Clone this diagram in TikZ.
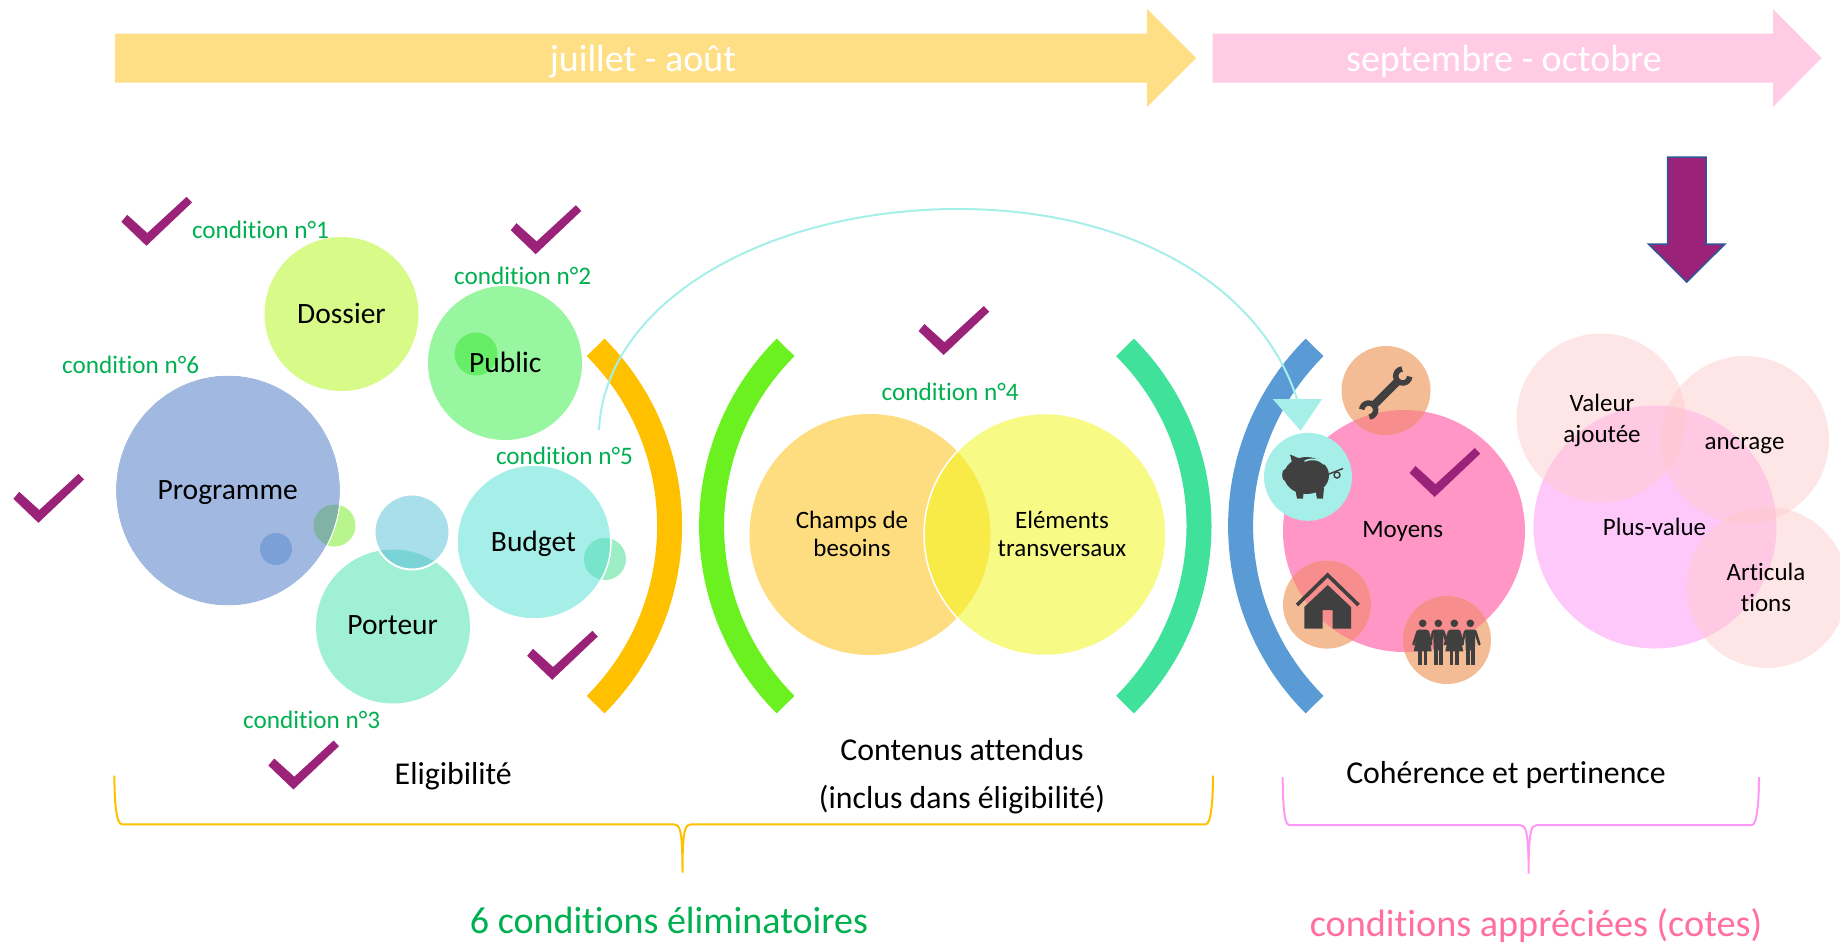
\documentclass[tikz,border=0pt]{standalone}
\usepackage{fontspec}
\usetikzlibrary{shapes.geometric}
\setmainfont{Carlito}[RawFeature={-liga;-clig;-dlig;-calt}]
\definecolor{cGreen}{HTML}{00B050}
\definecolor{cRose}{HTML}{FF6F9F}
\definecolor{cCheck}{HTML}{9B2279}
\definecolor{cCyan}{HTML}{A6EFE9}
\definecolor{cIcon}{HTML}{404040}
\definecolor{cOrangeC}{HTML}{F3BC94}
\definecolor{cOrangeO}{HTML}{F78D8D}
\definecolor{cYelArrow}{HTML}{FFDF85}
\definecolor{cPinkArrow}{HTML}{FFCBE5}
\definecolor{cDossier}{HTML}{D8FA88}
\definecolor{cPublic}{HTML}{98F5A0}
\definecolor{cProg}{HTML}{A1B8E0}
\definecolor{cBudget}{HTML}{A6EFE9}
\definecolor{cPorteur}{HTML}{A0F0D5}
\definecolor{cMoyens}{HTML}{FF96C6}
\definecolor{cPlus}{HTML}{FFC8FB}
\definecolor{cPale}{HTML}{FFCACA}
\definecolor{cGreenA}{HTML}{66EE66}
\definecolor{cLime}{HTML}{B8F58C}
\definecolor{cOverA}{HTML}{80B3A5}
\definecolor{cBluS}{HTML}{7BA0D8}
\definecolor{cBluC}{HTML}{A9DFEB}
\definecolor{cOverB}{HTML}{7AD3D6}
\definecolor{cMint}{HTML}{9CEFC4}
\definecolor{cOverC}{HTML}{78E4CB}
\definecolor{cChamps}{HTML}{FEDD80}
\definecolor{cElem}{HTML}{F7FB85}
\definecolor{cOverD}{HTML}{F9EB47}
\definecolor{cArrowEdge}{HTML}{2F5597}
\definecolor{bOrange}{HTML}{FFC000}
\definecolor{bGreen}{HTML}{6BF120}
\definecolor{bTeal}{HTML}{40E29B}
\definecolor{bBlue}{HTML}{5B9BD5}
\definecolor{bracePink}{HTML}{FF99F5}
\newcommand\fs[1]{\fontsize{#1pt}{#1pt}\selectfont}
\newcommand\ovl[7]{\begin{scope}\clip (#1,#2) circle (#3pt);\fill[#7] (#4,#5) circle (#6pt);\end{scope}}
\newcommand\chk[2]{\fill[cCheck,shift={(#1,#2)}] (-25,-24) -- (-19.2,-31) -- (0.9,-12.8) -- (40.2,-49) -- (45.6,-43.3) -- (0,0) -- cycle;}
\newcommand\iconWoman[2]{\begin{scope}[shift={(#1,#2)}]
\fill[cIcon] (0,0) circle (3.8pt);
\fill[cIcon] (-4.5,6.2) -- (4.5,6.2) -- (9,28) -- (-9,28) -- cycle;
\fill[cIcon] (-4.3,28) rectangle (-1,41.5);
\fill[cIcon] (1,28) rectangle (4.3,41.5);
\draw[cIcon,line width=2.6pt,line cap=round] (-5,8) -- (-9.2,21);
\draw[cIcon,line width=2.6pt,line cap=round] (5,8) -- (8.5,21);
\end{scope}}
\newcommand\iconMan[2]{\begin{scope}[shift={(#1,#2)}]
\fill[cIcon] (0,0) circle (3.8pt);
\fill[cIcon] (-5.2,6.2) -- (5.2,6.2) -- (4.6,27) -- (-4.6,27) -- cycle;
\fill[cIcon] (-4.6,26) rectangle (-0.8,41.5);
\fill[cIcon] (0.8,26) rectangle (4.6,41.5);
\draw[cIcon,line width=2.6pt,line cap=round] (-5,8) -- (-8.5,21);
\draw[cIcon,line width=2.6pt,line cap=round] (5,8) -- (9,21);
\end{scope}}
\tikzset{
 disc/.style={circle,inner sep=0pt,outer sep=0pt,draw=none},
 lab/.style={anchor=base,inner sep=0pt,outer sep=0pt,text=black,font=\fs{29.5}},
 lbs/.style={anchor=base,inner sep=0pt,outer sep=0pt,text=black,font=\fs{25}},
 lbm/.style={anchor=center,align=center,inner sep=0pt,outer sep=0pt,text=black},
 cond/.style={anchor=base,inner sep=0pt,outer sep=0pt,text=cGreen,font=\fs{25.2}},
 big/.style={anchor=base,inner sep=0pt,outer sep=0pt,text=black,font=\fs{31.8}},
 head/.style={anchor=base,inner sep=0pt,outer sep=0pt,text=white,font=\fs{38}},
 bracket/.style={line width=25pt,line cap=butt},
 brace/.style={line width=2pt},
}
\begin{document}
\begin{tikzpicture}[x=1pt,y=-1pt]
\useasboundingbox (0,0) rectangle (1840,943);
% timeline arrows
\fill[cYelArrow] (115,33.5) -- (1147,33.5) -- (1147,9) -- (1196,58) -- (1147,107) -- (1147,82.5) -- (115,82.5) -- cycle;
\fill[cPinkArrow] (1212.5,33.5) -- (1773,33.5) -- (1773,9) -- (1821.5,58) -- (1773,107) -- (1773,82.5) -- (1212.5,82.5) -- cycle;
\node[head] (t1) at (643,71) {juillet - août};
\node[head] (t2) at (1504,71) {septembre - octobre};
% down arrow
\draw[fill=cCheck,draw=cArrowEdge,line width=1.5pt] (1667.5,157) -- (1706,157) -- (1706,244) -- (1725,244) -- (1686.7,282) -- (1648.5,244) -- (1667.5,244) -- cycle;
% brackets
\draw[bracket,draw=bOrange] ([shift={(45:252.6pt)}]417,526) arc[start angle=45,end angle=-45,radius=252.6pt];
\draw[bracket,draw=bGreen] ([shift={(135:252.6pt)}]964.2,526) arc[start angle=135,end angle=225,radius=252.6pt];
\draw[bracket,draw=bTeal] ([shift={(45:252.6pt)}]946.4,526) arc[start angle=45,end angle=-45,radius=252.6pt];
\draw[bracket,draw=bBlue] ([shift={(135:252.6pt)}]1493.2,526) arc[start angle=135,end angle=225,radius=252.6pt];
% left cluster
\node[disc,fill=cDossier,minimum size=154pt] (dossier) at (341.5,314) {};
\node[disc,fill=cPublic,minimum size=154pt] (public) at (505,363) {};
\node[disc,fill=cGreenA,minimum size=43pt] (publicS) at (476,354) {};
\node[disc,fill=cLime,minimum size=42pt] (progS) at (334.5,525.5) {};
\node[ellipse,inner sep=0pt,outer sep=0pt,fill=cProg,minimum width=224pt,minimum height=230pt] (prog) at (228,490.5) {};
\begin{scope}\clip (334.5,525.5) circle (21pt);\fill[cOverA] (228,490.5) ellipse (112pt and 115pt);\end{scope}
\node[disc,fill=cBluS,minimum size=32pt] (progB) at (276,549) {};
\node[disc,fill=cPorteur,minimum size=154pt] (porteur) at (393,626.5) {};
\node[disc,fill=cBluC,minimum size=75pt] (porteurS) at (412,532) {};
\ovl{412}{532}{37.5}{393}{626.5}{77}{cOverB}
\draw[white,line width=2pt] (412,532) circle (37.5pt);
\node[disc,fill=cMint,minimum size=42pt] (budgetS) at (605,559) {};
\node[disc,fill=cBudget,minimum size=154pt] (budget) at (534,542) {};
\ovl{605}{559}{21}{534}{542}{77}{cOverC}
\draw[white,line width=1.5pt] (534,542) circle (77pt);
\draw[white,line width=1pt] (228,490.5) ellipse (112.5pt and 115.5pt);
% centre cluster
\node[disc,fill=cChamps,minimum size=241pt] (champs) at (870,534.5) {};
\node[disc,fill=cElem,minimum size=242pt] (elem) at (1045,534.5) {};
\ovl{870}{534.5}{120.5}{1045}{534.5}{121}{cOverD}
\draw[white,line width=1.5pt] (1045,534.5) circle (121pt);
% right cluster
\node[disc,fill=cMoyens,minimum size=242pt] (moyens) at (1404,531) {};
\node[disc,fill=cOrangeC,minimum size=89pt] (tool) at (1386,390.5) {};
\ovl{1386}{390.5}{44.5}{1404}{531}{121}{cOrangeO}
\node[disc,fill=cOrangeC,minimum size=88pt] (house) at (1327,604.6) {};
\ovl{1327}{604.6}{44}{1404}{531}{121}{cOrangeO}
\node[disc,fill=cOrangeC,minimum size=88pt] (people) at (1447,640) {};
\ovl{1447}{640}{44}{1404}{531}{121}{cOrangeO}
\node[disc,fill=cBudget,minimum size=88pt] (pig) at (1308,476.8) {};
\node[disc,fill=cPlus,minimum size=243pt] (plus) at (1655,527) {};
\node[disc,fill=cPale,fill opacity=.47,minimum size=169pt] (valeur) at (1601,418) {};
\node[disc,fill=cPale,fill opacity=.47,minimum size=168pt] (ancrage) at (1745,440) {};
\node[disc,fill=cPale,fill opacity=.47,minimum size=161pt] (artic) at (1767,587.4) {};
% wrench icon
\draw[cIcon,line width=8pt] (1372,407) -- (1399,380);
\draw[cIcon,line width=5.5pt] ([shift={(95:7pt)}]1402.7,376) arc[start angle=95,end angle=355,radius=7pt];
\draw[cIcon,line width=5.5pt] ([shift={(275:7pt)}]1368.7,410) arc[start angle=275,end angle=535,radius=7pt];
% pig icon
\begin{scope}
\fill[cIcon] (1306.5,475.5) ellipse (22.5pt and 18.5pt);
\fill[cIcon] (1286,475) ellipse (3.8pt and 6.5pt);
\fill[cIcon] (1290,454.5) -- (1303,460) -- (1294,470) -- cycle;
\fill[cIcon] (1295,488) -- (1304,488) -- (1303,498.5) -- (1297,498.5) -- cycle;
\fill[cIcon] (1315,488) -- (1324,488) -- (1323,498.5) -- (1317,498.5) -- cycle;
\draw[cIcon,line width=1.4pt] (1329,474) -- (1343,468.5);
\draw[cIcon,line width=1.4pt] (1337,475) circle (3pt);
\draw[cBudget,line width=1.6pt,line cap=round] (1305,461) .. controls (1312,458) and (1319,459) .. (1324,464);
\end{scope}
% house icon
\draw[cIcon,line width=3.6pt] (1297,605) -- (1327.6,575) -- (1358.5,605);
\fill[cIcon] (1327.7,585) -- (1351,607) -- (1351,628.5) -- (1332.7,628.5) -- (1332.7,610) -- (1322.7,610) -- (1322.7,628.5) -- (1304.3,628.5) -- (1304.3,607) -- cycle;
% people icon
\iconWoman{1422.7}{623.3}
\iconMan{1438.3}{623.3}
\iconWoman{1454.3}{623.3}
\iconMan{1470.3}{623.3}
% checks
\chk{146.4}{245.8}
\chk{535.7}{254.2}
\chk{38.4}{522.8}
\chk{552.2}{679.8}
\chk{293.4}{789.5}
\chk{943.6}{355}
\chk{1434.6}{497}
% curved connector
\coordinate (curveS) at (599,430);
\coordinate (curveT) at (958,209);
\coordinate (curveE) at (1297,399);
\draw[cCyan,line width=2pt] (curveS) .. controls (605,300) and (770,209) .. (curveT) .. controls (1130,209) and (1260,285) .. (curveE);
\fill[cCyan] (1272.7,399) -- (1322,399) -- (1300.7,430.7) -- cycle;
% braces
\coordinate (b1a) at (114.4,775.7); \coordinate (b1m) at (682.5,872.7); \coordinate (b1b) at (1213,775.7);
\draw[bOrange,brace] (b1a) .. controls (114.4,800) and (116,824.3) .. (122,824.3) -- (674,824.3) .. controls (680,824.3) and (682.5,830) .. (b1m) .. controls (682.5,830) and (685,824.3) .. (691,824.3) -- (1205.8,824.3) .. controls (1211,824.3) and (1213,800) .. (b1b);
\coordinate (b2a) at (1282.7,777); \coordinate (b2m) at (1528.6,873.7); \coordinate (b2b) at (1759,777);
\draw[bracePink,brace] (b2a) .. controls (1282.7,800) and (1284,825) .. (1289,825) -- (1520,825) .. controls (1526,825) and (1528.6,832) .. (b2m) .. controls (1528.6,832) and (1531,825) .. (1537,825) -- (1752,825) .. controls (1757,825) and (1759,800) .. (b2b);
% labels
\node[lab] (tDossier) at (341.5,323) {Dossier};
\node[lab] (tPublic) at (505.3,372.5) {Public};
\node[lab] (tProg) at (227.7,499) {Programme};
\node[lab] (tBudget) at (533.5,551) {Budget};
\node[lab] (tPorteur) at (392.7,634) {Porteur};
\node[lbm,font=\fontsize{25pt}{28pt}\selectfont] (tChamps) at (852,534) {Champs de\\besoins};
\node[lbm,font=\fontsize{25pt}{28pt}\selectfont] (tElem) at (1062,534) {Eléments\\transversaux};
\node[lbs] (tMoyens) at (1402.7,537) {Moyens};
\node[lbs] (tPlus) at (1654.5,535) {Plus-value};
\node[lbs] (tAncr) at (1744.5,449) {ancrage};
\node[lbm,font=\fontsize{25pt}{31pt}\selectfont] (tVal) at (1602,420) {Valeur\\ajoutée};
\node[lbm,font=\fontsize{25pt}{31pt}\selectfont] (tArt) at (1766,587) {Articula\\tions};
\node[cond] (c1) at (260.5,238) {condition n°1};
\node[cond] (c2) at (522.7,284) {condition n°2};
\node[cond] (c3) at (311.7,728) {condition n°3};
\node[cond] (c4) at (950.2,400) {condition n°4};
\node[cond] (c5) at (564.5,464) {condition n°5};
\node[cond] (c6) at (130.7,373) {condition n°6};
\node[big] (tElig) at (453.3,784) {Eligibilité};
\node[lbm,font=\fontsize{31.8pt}{47.7pt}\selectfont] (tCont) at (962,776.5) {Contenus attendus\\(inclus dans éligibilité)};
\node[big] (tCoh) at (1506,783) {Cohérence et pertinence};
\node[anchor=base,inner sep=0pt,text=cGreen,font=\fs{38}] (tSix) at (669,933) {6 conditions éliminatoires};
\node[anchor=base,inner sep=0pt,text=cRose,font=\fs{38.2}] (tApp) at (1536,936.7) {conditions appréciées (cotes)};
\end{tikzpicture}
\end{document}
